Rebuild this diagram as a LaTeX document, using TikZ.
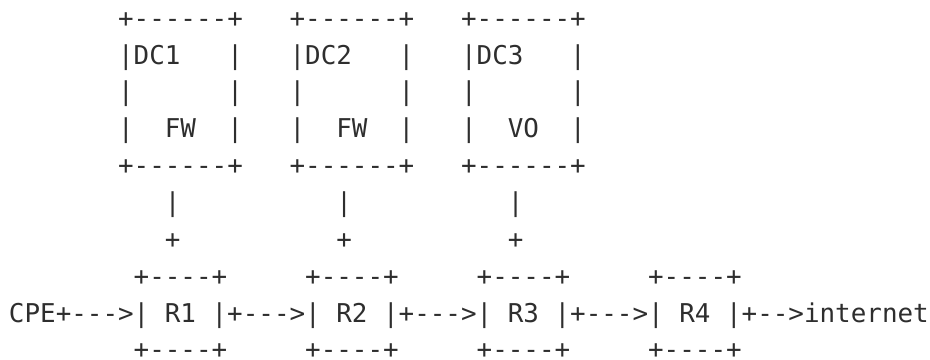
\documentclass[tikz,border=0pt]{standalone}
\usepackage{fontspec}
\setmonofont{DejaVu Sans Mono}
\usepackage{xcolor}
\usepackage{tikz}
\usetikzlibrary{positioning, calc}
\definecolor{ink}{HTML}{2E2E2E}
\begin{document}
\begin{tikzpicture}[x=7.795pt, y=-18.5pt]
			\tikzstyle{ascii}=[anchor=base west, inner sep=0pt, outer sep=0pt, text depth=0pt, text=ink, font=\ttfamily\fontsize{12.95pt}{15pt}\selectfont]
			\useasboundingbox (-0.577,-0.73) rectangle (59.08,9.0);
			
			%%			data centres on top
			\foreach \c/\n in {7/1, 18/2, 29/3} {
				\node[ascii](dctop\n) at (\c,0) {+------+};
				\node[ascii](dcmid\n) at (\c,2) {|~~~~~~|};
				\node[ascii](dcbot\n) at (\c,4) {+------+};
			}
			\node[ascii](dc1) at (7,1) {|DC1~~~|};
			\node[ascii](dc2) at (18,1) {|DC2~~~|};
			\node[ascii](dc3) at (29,1) {|DC3~~~|};
			\node[ascii](fw1) at (7,3) {|~~FW~~|};
			\node[ascii](fw2) at (18,3) {|~~FW~~|};
			\node[ascii](vo3) at (29,3) {|~~VO~~|};
			
			%%			links down to the routers
			\foreach \c/\n in {10/1, 21/2, 32/3} {
				\node[ascii](bar\n) at (\c,5) {|};
				\node[ascii](plus\n) at (\c,6) {+};
			}
			
			%%			router chain
			\foreach \c/\n in {8/1, 19/2, 30/3, 41/4} {
				\node[ascii](rtop\n) at (\c,7) {+----+};
				\node[ascii](rbot\n) at (\c,8.97) {+----+};
			}
			\node[ascii](cpe) at (0,8) {CPE+--->};
			\node[ascii](r1) at (8,8) {|~R1~|};
			\node[ascii](l12) at (14,8) {+--->};
			\node[ascii](r2) at (19,8) {|~R2~|};
			\node[ascii](l23) at (25,8) {+--->};
			\node[ascii](r3) at (30,8) {|~R3~|};
			\node[ascii](l34) at (36,8) {+--->};
			\node[ascii](r4) at (41,8) {|~R4~|};
			\node[ascii](inet) at (47,8) {+-->internet};
			
\end{tikzpicture}
\end{document}
